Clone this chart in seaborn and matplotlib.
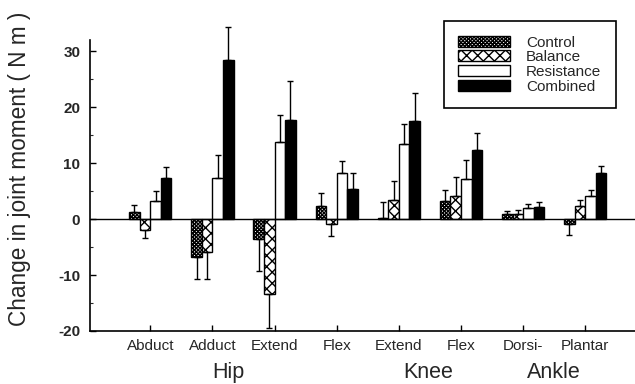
import matplotlib
matplotlib.use("Agg")
import matplotlib.pyplot as plt
import numpy as np
import pandas as pd
import seaborn as sns

movements = ["Abduct", "Adduct", "Extend", "Flex", "Extend ", "Flex ", "Dorsi-", "Plantar"]
tick_labels = ["Abduct", "Adduct", "Extend", "Flex", "Extend", "Flex", "Dorsi-", "Plantar"]
groups = ["Control", "Balance", "Resistance", "Combined"]

control = [1.2, -6.8, -3.6, 2.3, 0.2, 3.2, 0.9, -0.9]
balance = [-2.0, -5.8, -13.4, -0.9, 3.4, 4.2, 0.9, 2.3]
resistance = [3.2, 7.4, 13.7, 8.3, 13.5, 7.2, 2.0, 4.2]
combined = [7.4, 28.4, 17.7, 5.4, 17.5, 12.3, 2.1, 8.3]

control_err = [1.3, 3.9, 5.7, 2.3, 2.8, 2.0, 0.6, 1.9]
balance_err = [1.3, 4.9, 6.0, 2.2, 3.4, 3.3, 0.7, 1.1]
resistance_err = [1.8, 4.0, 4.9, 2.1, 3.5, 3.3, 0.7, 1.0]
combined_err = [1.9, 5.9, 7.0, 2.8, 5.1, 3.1, 0.9, 1.1]

joints = ["Hip", "Knee", "Ankle"]
joint_pos = [1.26, 4.48, 6.5]

values = [control, balance, resistance, combined]
errors = [control_err, balance_err, resistance_err, combined_err]
hatches = ["xxxxxxxxx", "xxx", "", ""]
faces = ["white", "white", "white", "black"]

df = pd.DataFrame({
    "movement": np.tile(movements, len(groups)),
    "group": np.repeat(groups, len(movements)),
    "value": np.concatenate(values),
})

sns.set_style("ticks")
plt.rcParams["font.family"] = ["Liberation Sans", "DejaVu Sans"]
plt.rcParams["axes.unicode_minus"] = False
plt.rcParams["hatch.linewidth"] = 1.0

fig = plt.figure(figsize=(6.35, 3.84), dpi=100)
ax = fig.add_axes([90 / 635, 1 - 331 / 384, 1 - 90 / 635, (331 - 40) / 384])

sns.barplot(data=df, x="movement", y="value", hue="group", order=movements,
            hue_order=groups, width=0.68, errorbar=None, legend=False,
            palette=["white"] * 4, edgecolor="black", linewidth=1, ax=ax)

bar_containers = list(ax.containers)
for cont, hatch, face, vals, errs in zip(bar_containers, hatches, faces, values, errors):
    xs = []
    for bar in cont.patches:
        bar.set_facecolor(face)
        bar.set_edgecolor("black")
        bar.set_hatch(hatch)
        xs.append(bar.get_x() + bar.get_width() / 2)
    vals = np.array(vals)
    errs = np.array(errs)
    # one-sided error bars, pointing away from zero
    lower = np.where(vals < 0, errs, 0)
    upper = np.where(vals >= 0, errs, 0)
    eb = ax.errorbar(xs, vals, yerr=[lower, upper], fmt="none", ecolor="black",
                     elinewidth=1, capsize=2, capthick=1, zorder=1)
    for art in eb.lines[1] + eb.lines[2]:
        art.set_clip_on(False)

ax.axhline(0, color="black", lw=1, zorder=3)
ax.set_xlim(-0.97, 7.8)
ax.set_ylim(-20, 32)
ax.set_yticks([-20, -10, 0, 10, 20, 30])
ax.set_yticks([-15, -5, 5, 15, 25], minor=True)
ax.set_xticks(range(len(movements)))
ax.set_xticklabels(tick_labels, fontsize=11)
for lab in ax.get_yticklabels():
    lab.set_fontsize(11)
    lab.set_fontweight("bold")
ax.tick_params(axis="both", which="major", direction="in", length=4, width=1, color="black")
ax.tick_params(axis="x", pad=6)
ax.tick_params(axis="y", pad=7)
ax.tick_params(axis="y", which="minor", direction="in", length=2.5, width=0.8)
sns.despine(ax=ax)
for s in ["left", "bottom"]:
    ax.spines[s].set_color("black")
    ax.spines[s].set_linewidth(1.2)

ax.set_xlabel("")
ax.set_ylabel("Change in joint moment ( N m )", fontsize=16.3)
ax.yaxis.set_label_coords(-0.108, 0.557)

for name, pos in zip(joints, joint_pos):
    ax.text(pos, -0.141, name, transform=ax.get_xaxis_transform(),
            ha="center", va="center", fontsize=15.5)

handles = [c.patches[0] for c in bar_containers]
leg = ax.legend(handles, groups, loc="upper right", bbox_to_anchor=(616 / 635, 1 - 21 / 384),
                bbox_transform=fig.transFigure, fontsize=11, frameon=True, fancybox=False,
                handlelength=3.4, handleheight=0.72, handletextpad=1.05,
                labelspacing=0.05, borderpad=0.95, borderaxespad=0)
leg.get_frame().set_edgecolor("black")
leg.get_frame().set_linewidth(1.2)
leg.get_frame().set_alpha(1)

fig.savefig("out.png", dpi=100)
